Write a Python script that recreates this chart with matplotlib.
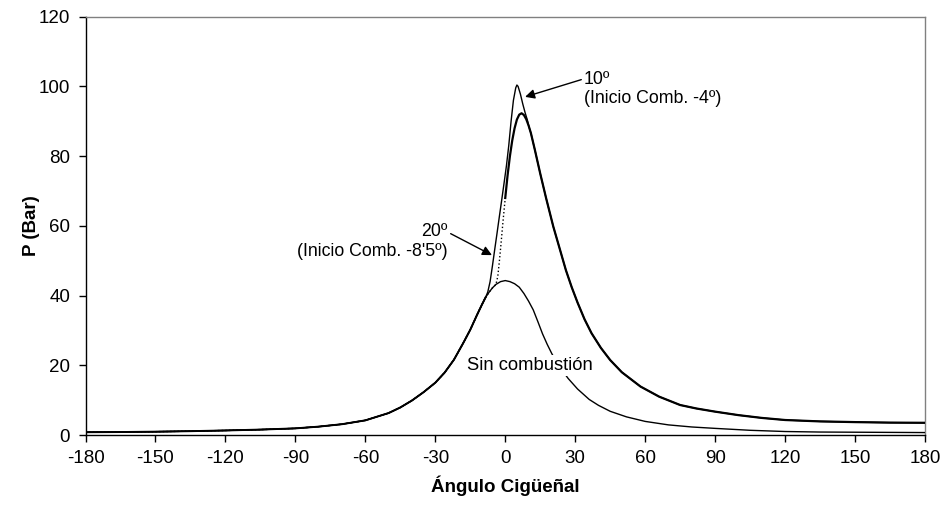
import matplotlib
matplotlib.use("Agg")
import matplotlib.pyplot as plt
import numpy as np

plt.rcParams['font.family'] = ['Liberation Sans', 'DejaVu Sans']
plt.rcParams['axes.unicode_minus'] = False

# Compression stroke (shared by all three curves)
theta_comp = [-180, -165, -150, -135, -120, -105, -90, -80, -70, -60, -50, -45, -40,
              -35, -30, -26, -22, -18, -15, -12, -10, -8.5]
p_comp = [0.8, 0.85, 0.95, 1.1, 1.3, 1.55, 1.9, 2.4, 3.1, 4.2, 6.3, 7.9, 9.9,
          12.3, 15.0, 17.9, 21.6, 26.4, 30.2, 34.6, 37.4, 39.4]

# Motoring (Sin combustión) after -8.5
theta_mot = [-7, -5.5, -4, -2, 0, 2, 4, 6, 8, 10, 12, 14, 16, 18, 20, 23, 27, 31, 36,
             40, 45, 52, 60, 70, 80, 90, 105, 120, 135, 150, 165, 180]
p_mot = [40.9, 42.2, 43.2, 44.0, 44.3, 44.0, 43.4, 42.4, 40.6, 38.4, 35.9, 32.5, 29.0,
         26.0, 23.3, 19.8, 16.2, 13.2, 10.2, 8.5, 6.8, 5.2, 3.9, 2.9, 2.3, 1.9, 1.35,
         1.0, 0.85, 0.8, 0.75, 0.7]

# 20º advance (combustion start -8.5º)
theta_20 = [-7.5, -6.5, -5.5, -4.5, -3.5, -2.5, -1.5, -0.5, 0.5, 1.5, 2.5, 3.5, 4.5,
            5.0, 5.5, 6.5, 7.5, 8.5, 9.5]
p_20 = [41.0, 44.0, 48.5, 53.3, 58.0, 62.8, 67.5, 72.3, 77.2, 83.0, 90.0, 96.0, 99.6,
        100.4, 100.0, 97.8, 95.0, 92.5, 90.3]

# 10º advance (combustion start -4º), rising part
theta_10_rise = [-7, -5.5, -4, -3.2, -2.5, -2, -1, 0]
p_10_rise = [40.9, 42.2, 43.2, 45.5, 50.0, 53.5, 61.0, 68.0]
theta_10_top = [0, 1, 2, 3, 4, 5, 6, 7, 8, 9]
p_10_top = [68.0, 74.5, 80.0, 84.5, 88.0, 90.5, 91.9, 92.3, 91.8, 90.6]

# Expansion (shared by both combustion curves)
theta_exp = [10, 11, 12.7, 15, 17.5, 20.6, 23.5, 26, 28.5, 31, 34, 37, 41, 45, 50, 58,
             66, 75, 82, 90, 100, 110, 120, 135, 150, 165, 180]
p_exp = [88.8, 86.6, 81.8, 75.0, 68.0, 59.8, 53.1, 47.3, 42.4, 38.0, 33.2, 29.2, 25.0,
         21.5, 18.0, 13.9, 11.0, 8.6, 7.6, 6.7, 5.7, 4.9, 4.3, 3.9, 3.7, 3.55, 3.5]

x_ticks = list(range(-180, 181, 30))
y_ticks = list(range(0, 121, 20))

fig = plt.figure(figsize=(9.44, 5.07), dpi=100)
ax = fig.add_axes([85.5 / 944, 1 - 435 / 507, (925 - 85.5) / 944, (435 - 16.7) / 507])

# motoring
ax.plot(theta_comp + theta_mot, p_comp + p_mot, color='black', lw=1.0, zorder=3)
# 20º curve
ax.plot(theta_comp + theta_20 + theta_exp, p_comp + p_20 + p_exp, color='black', lw=1.0, zorder=3)
# 10º curve
ax.plot(theta_comp + theta_10_rise, p_comp + p_10_rise, color='black', lw=1.0,
        linestyle=':', zorder=3)
ax.plot(theta_comp, p_comp, color='black', lw=1.4, zorder=3)
ax.plot(theta_10_top + theta_exp, p_10_top + p_exp, color='black', lw=1.6, zorder=3)

ax.set_xlim(-180, 180)
ax.set_ylim(0, 120)
ax.set_xticks(x_ticks)
ax.set_yticks(y_ticks)
ax.tick_params(axis='both', labelsize=13.5, length=5, width=1, direction='out', pad=6)

for s in ['left', 'bottom']:
    ax.spines[s].set_color('black')
    ax.spines[s].set_linewidth(1.0)
for s in ['top', 'right']:
    ax.spines[s].set_color('#808080')
    ax.spines[s].set_linewidth(1.0)

ax.set_ylabel('P (Bar)', fontsize=13.5, fontweight='bold', labelpad=-1)
ax.set_xlabel('Ángulo Cigüeñal', fontsize=13.5, fontweight='bold', labelpad=6)

ax.annotate('10º\n(Inicio Comb. -4º)', xy=(8.5, 97.0), xytext=(33.8, 104.5),
            ha='left', va='top', fontsize=12.8, multialignment='left',
            arrowprops=dict(arrowstyle='-|>', color='black', lw=1.0,
                            shrinkA=0, shrinkB=0, mutation_scale=14,
                            relpos=(0.0, 0.78)))
ax.annotate('20º\n(Inicio Comb. -8\'5º)', xy=(-5.7, 51.6), xytext=(-24.6, 60.8),
            ha='right', va='top', fontsize=12.8, multialignment='right',
            arrowprops=dict(arrowstyle='-|>', color='black', lw=1.0,
                            shrinkA=0, shrinkB=0, mutation_scale=14,
                            relpos=(1.0, 0.75)))
ax.text(10.6, 19.9, 'Sin combustión', ha='center', va='center', fontsize=13.2,
        bbox=dict(facecolor='white', edgecolor='none', pad=1.5), zorder=4)

fig.savefig('out.png', dpi=100)
